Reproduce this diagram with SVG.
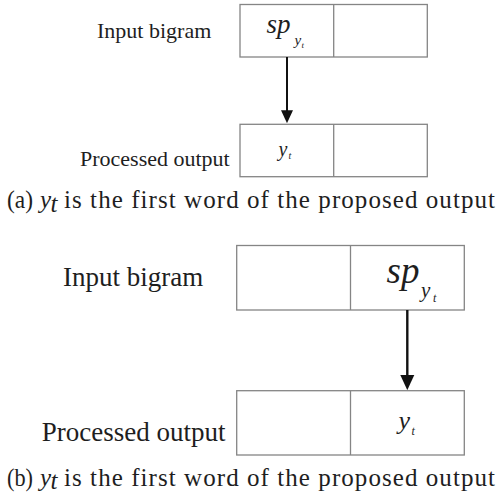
<svg xmlns="http://www.w3.org/2000/svg" width="504" height="496" viewBox="0 0 504 496">
  <defs>
    <marker id="head" viewBox="0 0 6.5 6" refX="0.4" refY="3" markerWidth="6.5" markerHeight="6" orient="auto" markerUnits="strokeWidth">
      <path d="M0,0 L6.5,3 L0,6 Z" fill="#111"/>
    </marker>
    <style>
      .cell { fill: #fff; stroke: #858585; stroke-width: 1.3; }
      .lbl { font-family: "Liberation Serif", "Times New Roman", serif; fill: #1e1e1e; }
      .math { font-family: "Liberation Serif", "Times New Roman", serif; font-style: italic; fill: #1e1e1e; }
      .cap { font-family: "Liberation Serif", "Times New Roman", serif; fill: #1e1e1e; font-size: 25px; }
      .arrow { stroke: #111; fill: none; marker-end: url(#head); }
    </style>
  </defs>

  <rect width="504" height="496" fill="#fff"/>

  <!-- panel (a) -->
  <g id="a-input">
    <text class="lbl" x="97" y="38" font-size="22">Input bigram</text>
    <rect class="cell" x="240" y="4.5" width="187.3" height="52.5"/>
    <line class="cell" x1="333.7" y1="4.5" x2="333.7" y2="57"/>
    <text class="math" x="266.5" y="33.3" font-size="27">sp</text>
    <text class="math" x="294.5" y="45" font-size="15">y</text>
    <text class="math" x="301.5" y="48" font-size="9">t</text>
  </g>
  <g id="a-output">
    <text class="lbl" x="80" y="165.7" font-size="22">Processed output</text>
    <rect class="cell" x="240" y="124.3" width="187.3" height="52.4"/>
    <line class="cell" x1="333.7" y1="124.3" x2="333.7" y2="176.7"/>
    <text class="math" x="278.5" y="155.6" font-size="20">y</text>
    <text class="math" x="288.5" y="159" font-size="10">t</text>
  </g>
  <g id="a-caption">
    <text class="cap" x="7" y="208.3" textLength="26" lengthAdjust="spacingAndGlyphs">(a)</text>
    <text class="cap" x="40" y="208.3" font-style="italic">y</text>
    <text class="cap" x="50.5" y="211.8" font-size="16" font-style="italic">t</text>
    <text class="cap" x="64" y="208.3" textLength="431" lengthAdjust="spacing">is the first word of the proposed output</text>
  </g>

  <!-- panel (b) -->
  <g id="b-input">
    <text class="lbl" x="63" y="285.7" font-size="27">Input bigram</text>
    <rect class="cell" x="236.7" y="245.5" width="227.6" height="64.5"/>
    <line class="cell" x1="350.5" y1="245.5" x2="350.5" y2="310"/>
    <text class="math" x="386.5" y="283.3" font-size="37">sp</text>
    <text class="math" x="421" y="297" font-size="21">y</text>
    <text class="math" x="433" y="301.7" font-size="12">t</text>
  </g>
  <g id="b-output">
    <text class="lbl" x="41.7" y="441" font-size="27">Processed output</text>
    <rect class="cell" x="236.7" y="390.7" width="227.6" height="64.3"/>
    <line class="cell" x1="350.5" y1="390.7" x2="350.5" y2="455"/>
    <text class="math" x="398.5" y="429.3" font-size="26">y</text>
    <text class="math" x="411.5" y="435" font-size="12">t</text>
  </g>
  <g id="b-caption">
    <text class="cap" x="7" y="485.5" textLength="26" lengthAdjust="spacingAndGlyphs">(b)</text>
    <text class="cap" x="40" y="485.5" font-style="italic">y</text>
    <text class="cap" x="50.5" y="489" font-size="16" font-style="italic">t</text>
    <text class="cap" x="64" y="485.5" textLength="431" lengthAdjust="spacing">is the first word of the proposed output</text>
  </g>

  <!-- connectors -->
  <g id="connectors">
    <line class="arrow" x1="287" y1="57" x2="287" y2="111" stroke-width="2"/>
    <line class="arrow" x1="407.3" y1="310" x2="407.3" y2="375.5" stroke-width="2.4"/>
  </g>
</svg>
